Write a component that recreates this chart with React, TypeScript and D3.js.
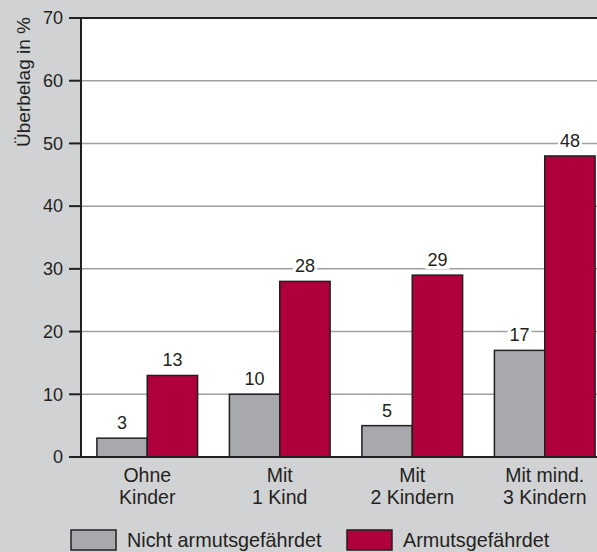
import React from 'react';
import * as d3 from 'd3';

const categories = [['Ohne', 'Kinder'], ['Mit', '1 Kind'], ['Mit', '2 Kindern'], ['Mit mind.', '3 Kindern']];
const seriesNames = ['Nicht armutsgefährdet', 'Armutsgefährdet'];
const nichtValues = [3, 10, 5, 17];
const armutValues = [13, 28, 29, 48];
const yTicks = [0, 10, 20, 30, 40, 50, 60, 70];
const colors = ['#a7a9ac', '#b0003c'];

const W = 597;
const H = 552;
const left = 81;
const top = 18;
const bottom = 457;

const App = () => {
  const y = d3.scaleLinear().domain([0, 70]).range([bottom, top]);
  const x = d3.scaleBand<number>().domain(d3.range(categories.length)).range([left, left + 530]).paddingInner(0.24).paddingOuter(0.12);
  const x1 = d3.scaleBand<number>().domain([0, 1]).range([0, x.bandwidth()]);
  const series = [nichtValues, armutValues];
  const font = '"Liberation Sans", Arial, sans-serif';

  return (
    <svg width={W} height={H} style={{ position: 'absolute', left: 0, top: 0, fontFamily: font }}>
      <rect x={0} y={0} width={W} height={H} fill="#d1d2d4" />
      <rect x={left} y={top} width={W - left} height={bottom - top} fill="#fff" />
      {yTicks.map(t => (
        <g key={t}>
          {t > 0 && <line x1={left} x2={W} y1={y(t)} y2={y(t)} stroke="#a0a0a0" strokeWidth={1.5} />}
          <line x1={69} x2={left} y1={y(t)} y2={y(t)} stroke="#231f20" strokeWidth={2} />
          <text x={63} y={y(t)} dy="0.35em" textAnchor="end" fontSize={18} fill="#231f20">{t}</text>
        </g>
      ))}
      {series.map((vals, s) =>
        vals.map((v, i) => {
          const bx = (x(i) as number) + (x1(s) as number);
          return (
            <g key={`${s}-${i}`}>
              <rect x={bx} y={y(v)} width={x1.bandwidth()} height={bottom - y(v)} fill={colors[s]} stroke="#231f20" strokeWidth={1.5} />
              <rect x={bx + x1.bandwidth() / 2 - 12} y={y(v) - 24} width={24} height={18} fill="#fff" />
              <text x={bx + x1.bandwidth() / 2} y={y(v) - 9} textAnchor="middle" fontSize={18} fill="#231f20">{v}</text>
            </g>
          );
        })
      )}
      <line x1={left} x2={left} y1={top} y2={bottom} stroke="#231f20" strokeWidth={2} />
      <line x1={left} x2={W} y1={top} y2={top} stroke="#231f20" strokeWidth={2} />
      <line x1={69} x2={W} y1={bottom} y2={bottom} stroke="#231f20" strokeWidth={2} />
      {categories.map((c, i) => (
        <text key={i} x={(x(i) as number) + x.bandwidth() / 2} textAnchor="middle" fontSize={19.5} fill="#231f20">
          <tspan x={(x(i) as number) + x.bandwidth() / 2} y={482}>{c[0]}</tspan>
          <tspan x={(x(i) as number) + x.bandwidth() / 2} y={504}>{c[1]}</tspan>
        </text>
      ))}
      <text transform="translate(30,82) rotate(-90)" textAnchor="middle" fontSize={19} fill="#231f20">Überbelag in %</text>
      {seriesNames.map((n, s) => (
        <g key={n} transform={`translate(${s === 0 ? 71 : 347},530)`}>
          <rect x={0} y={0} width={45} height={20} fill={colors[s]} stroke="#231f20" strokeWidth={1.5} />
          <text x={56} y={17} fontSize={19.8} fill="#231f20">{n}</text>
        </g>
      ))}
    </svg>
  );
};

export default App;
